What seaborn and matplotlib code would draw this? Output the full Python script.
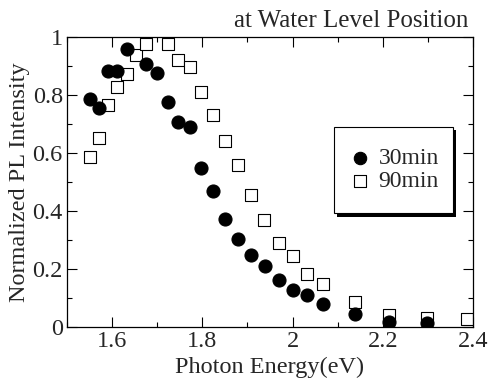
#!/usr/bin/env python3
# -*- coding: utf-8 -*-

import seaborn as sns
import matplotlib.pyplot as plt
import pandas as pd
from matplotlib.ticker import MultipleLocator
from matplotlib.patches import Rectangle

energy_30 = [1.550, 1.570, 1.590, 1.610, 1.633, 1.676, 1.699, 1.723, 1.747, 1.772,
             1.798, 1.824, 1.850, 1.879, 1.907, 1.938, 1.969, 2.002, 2.033, 2.067,
             2.138, 2.214, 2.298]
pl_30 = [0.785, 0.756, 0.882, 0.882, 0.960, 0.908, 0.876, 0.777, 0.708, 0.690,
         0.548, 0.470, 0.371, 0.303, 0.247, 0.211, 0.161, 0.126, 0.110, 0.081,
         0.046, 0.018, 0.015]

energy_90 = [1.550, 1.570, 1.590, 1.610, 1.632, 1.654, 1.676, 1.723, 1.747, 1.772,
             1.798, 1.824, 1.851, 1.880, 1.908, 1.937, 1.969, 2.001, 2.033, 2.067,
             2.138, 2.214, 2.298, 2.386]
pl_90 = [0.587, 0.653, 0.766, 0.826, 0.872, 0.939, 0.976, 0.975, 0.921, 0.896,
         0.811, 0.730, 0.641, 0.559, 0.456, 0.369, 0.289, 0.245, 0.182, 0.149,
         0.086, 0.040, 0.030, 0.027]

xticks = [1.6, 1.8, 2.0, 2.2, 2.4]
xticklabels = ["1.6", "1.8", "2", "2.2", "2.4"]
yticks = [0, 0.2, 0.4, 0.6, 0.8, 1.0]
yticklabels = ["0", "0.2", "0.4", "0.6", "0.8", "1"]

d30 = pd.DataFrame({"energy": energy_30, "pl": pl_30})
d90 = pd.DataFrame({"energy": energy_90, "pl": pl_90})

sns.set_style("ticks")
plt.rcParams['font.family'] = ['Liberation Serif', 'DejaVu Serif']

fig = plt.figure(figsize=(4.9, 3.8), dpi=100)
ax = fig.add_axes([0.1367, 0.1395, 0.8286, 0.7631])

sns.scatterplot(x="energy", y="pl", data=d30, ax=ax, marker="o", s=88,
                color="black", edgecolor="black", linewidth=0.8, label="30min", zorder=3)
sns.scatterplot(x="energy", y="pl", data=d90, ax=ax, marker="s", s=80,
                color="white", edgecolor="black", linewidth=0.8, label="90min", zorder=2)

ax.set_xlim(1.5, 2.4)
ax.set_ylim(0, 1)
ax.set_xticks(xticks)
ax.set_xticklabels(xticklabels)
ax.set_yticks(yticks)
ax.set_yticklabels(yticklabels)
ax.xaxis.set_minor_locator(MultipleLocator(0.1))
ax.yaxis.set_minor_locator(MultipleLocator(0.1))
ax.tick_params(which="both", direction="in", top=True, right=True, labelsize=17.5,
               color="black", width=0.8, pad=3)
ax.tick_params(which="major", length=7)
ax.tick_params(which="minor", length=3.5)
for sp in ax.spines.values():
    sp.set_linewidth(0.9)
    sp.set_color("black")

ax.set_xlabel("Photon Energy(eV)", fontsize=17.5, labelpad=3)
ax.set_ylabel("Normalized PL Intensity", fontsize=17.5, labelpad=2)

# legend box with a hard drop shadow
box = (0.657, 0.393, 0.293, 0.297)
ax.add_patch(Rectangle((box[0] + 0.008, box[1] - 0.012), box[2], box[3],
                       transform=ax.transAxes, facecolor="black", edgecolor="none",
                       zorder=5, clip_on=False))
ax.add_patch(Rectangle((box[0], box[1]), box[2], box[3], transform=ax.transAxes,
                       facecolor="white", edgecolor="black", linewidth=0.8,
                       zorder=6, clip_on=False))
leg = ax.legend(loc="center", bbox_to_anchor=box, fontsize=17, frameon=False,
                handletextpad=0.3, labelspacing=0.05, handlelength=1.0,
                borderpad=0.2, markerscale=0.95)
leg.set_zorder(7)

fig.text(0.955, 0.929, "at Water Level Position", ha="right", va="baseline", fontsize=18)

plt.savefig("out.png", dpi=100)
